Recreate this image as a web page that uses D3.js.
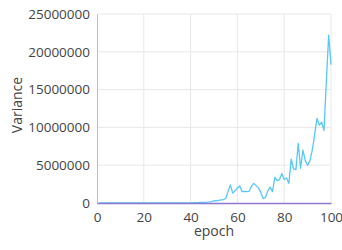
<!DOCTYPE html>
<html lang="en">
<head>
  <meta charset="UTF-8">
  <title>Variance per epoch</title>
  <script src="https://d3js.org/d3.v7.min.js"></script>
  <style>
    body {
      margin: 0;
      background: #fff;
      font-family: 'Open Sans', 'Noto Sans', sans-serif;
    }
    .tick text {
      font-size: 13.5px;
      fill: #444;
    }
    .grid line {
      stroke: #e8e8e8;
    }
    .title {
      font-size: 14px;
      fill: #444;
    }
  </style>
</head>
<body>
<svg width="342" height="250"></svg>
<script>
  // epochs 1..100 and variance per epoch
  const epochs = d3.range(1, 101);
  const variance = [
    2000, 2500, 3000, 2800, 3500, 4000, 4200, 5000, 4800, 5500,
    6000, 6500, 7000, 7200, 8000, 8500, 9000, 9500, 10000, 11000,
    11500, 12000, 13000, 13500, 14000, 15000, 16000, 17000, 18000, 19000,
    20000, 21000, 22000, 23000, 24000, 25000, 26000, 27000, 28000, 29000,
    30000, 45000, 50000, 70000, 80000, 90000, 110000, 140000, 180000, 300000,
    280000, 350000, 420000, 450000, 600000, 1500000, 2400000, 1300000, 1600000, 2000000,
    2250000, 1500000, 1550000, 1500000, 1550000, 2200000, 2600000, 2300000, 2000000, 1400000,
    600000, 750000, 1600000, 2100000, 1500000, 3400000, 2950000, 3100000, 3900000, 3100000,
    3300000, 2600000, 5800000, 4500000, 4400000, 7900000, 4600000, 7000000, 5600000, 5000000,
    5600000, 7000000, 9000000, 11200000, 10300000, 10700000, 9600000, 16000000, 22200000, 18300000
  ];
  const xTicks = [0, 20, 40, 60, 80, 100];
  const yTicks = [0, 5000000, 10000000, 15000000, 20000000, 25000000];

  const svg = d3.select("svg");
  const margin = {top: 14, right: 11, bottom: 47, left: 97};
  const width = 342, height = 250;

  const x = d3.scaleLinear().domain([0, 100]).range([margin.left, width - margin.right]);
  const y = d3.scaleLinear().domain([0, 25000000]).range([height - margin.bottom, margin.top]);

  // grid
  svg.append("g").attr("class", "grid")
    .selectAll("line.v").data(xTicks.slice(1)).join("line")
    .attr("x1", d => x(d)).attr("x2", d => x(d))
    .attr("y1", y(0)).attr("y2", y(25000000));
  svg.append("g").attr("class", "grid")
    .selectAll("line.h").data(yTicks.slice(1)).join("line")
    .attr("x1", x(0)).attr("x2", x(100))
    .attr("y1", d => y(d)).attr("y2", d => y(d));

  // y axis
  const yAxis = svg.append("g")
    .attr("transform", `translate(${margin.left},0)`)
    .call(d3.axisLeft(y).tickValues(yTicks).tickFormat(d3.format("d")).tickSize(0).tickPadding(7));
  yAxis.select(".domain").attr("stroke", "#bbb");

  // line
  const line = d3.line().x((d, i) => x(epochs[i])).y(d => y(d));
  svg.append("path")
    .datum(variance)
    .attr("fill", "none")
    .attr("stroke", "#56c8f8")
    .attr("stroke-width", 1.3)
    .attr("stroke-linejoin", "round")
    .attr("d", line);

  // x axis
  const xAxis = svg.append("g")
    .attr("transform", `translate(0,${height - margin.bottom})`)
    .call(d3.axisBottom(x).tickValues(xTicks).tickSize(0).tickPadding(9));
  xAxis.select(".domain").attr("stroke", "#8f78d0").attr("stroke-width", 1.5);

  svg.selectAll(".tick text").attr("font-family", "'Open Sans', 'Noto Sans', sans-serif");

  // titles
  svg.append("text").attr("class", "title")
    .attr("x", (x(0) + x(100)) / 2).attr("y", 236)
    .attr("text-anchor", "middle")
    .text("epoch");
  svg.append("text").attr("class", "title")
    .attr("transform", "translate(22,105) rotate(-90)")
    .attr("text-anchor", "middle")
    .text("Variance");
</script>
</body>
</html>
